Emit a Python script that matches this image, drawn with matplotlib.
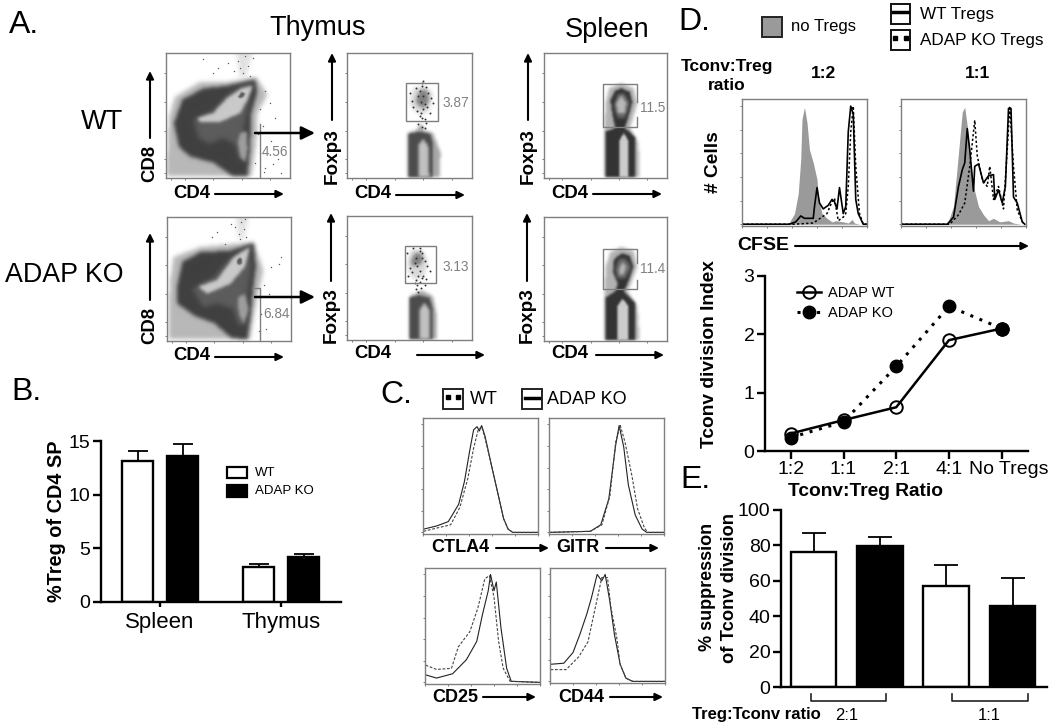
import numpy as np
import matplotlib
matplotlib.use("Agg")
import matplotlib.pyplot as plt
from matplotlib.patches import Rectangle
from matplotlib.path import Path
from matplotlib.transforms import ScaledTranslation

W, H = 1050, 727
plt.rcParams["font.family"] = ["Liberation Sans", "DejaVu Sans"]

# ---- panel A contours (channel units 0-100) ----
WT_CD8_SPECKLE = [(0, 1), (1, 25), (2, 49), (7, 65), (27, 77), (49, 77), (73, 81), (82, 67), (74, 52), (73, 28), (69, 1)]
WT_CD8_TOP = [(57, 100), (70, 100), (64, 80), (60, 80)]
WT_CD8_DARK = [(10, 25), (6, 44), (13, 63), (30, 72), (49, 74), (72, 79), (74, 69), (69, 52), (68, 25), (66, 1),
               (54, 1), (38, 12), (19, 17)]
WT_CD8_MID = [(22, 47), (38, 54), (49, 66), (61, 74), (70, 76), (67, 60), (63, 40), (64, 16), (60, 14), (56, 27),
              (45, 32), (35, 27), (26, 32)]
WT_CD8_LIGHT = [(25, 48), (38, 52), (49, 64), (61, 72), (70, 74), (66, 63), (60, 52), (44, 45), (27, 45)]
WT_CD8_STREAK = [(60, 36), (65, 37), (66, 23), (64, 12), (60, 17), (58, 28)]
WT_CD8_CORE = [(58, 65), (61, 69), (64, 68), (63, 65), (60, 64)]
WT_CD8_X = [72, 76, 80, 85, 90, 78, 88, 84, 76, 74, 80, 93, 42, 38, 50, 30, 79, 86, 62, 66, 58, 70, 55, 64, 68, 60]
WT_CD8_Y = [12, 20, 8, 30, 15, 42, 48, 60, 55, 35, 70, 4, 88, 84, 92, 95, 5, 11, 84, 90, 94, 96, 86, 98, 82, 88]

KO_CD8_SPECKLE = [(1, 1), (1, 24), (2, 48), (5, 68), (27, 76), (70, 80), (78, 57), (72, 30), (67, 1)]
KO_CD8_TOP = [(56, 100), (66, 100), (62, 82), (58, 82)]
KO_CD8_DARK = [(8, 30), (8, 45), (12, 64), (27, 72), (50, 73), (70, 79), (72, 60), (70, 45), (68, 25), (65, 1),
               (52, 2), (38, 14), (22, 20)]
KO_CD8_MID = [(20, 42), (38, 52), (50, 66), (66, 77), (68, 60), (65, 38), (65, 14), (58, 12), (53, 26), (40, 30), (29, 27)]
KO_CD8_LIGHT = [(25, 44), (40, 49), (54, 68), (67, 76), (63, 60), (51, 46), (32, 38)]
KO_CD8_STREAK = [(57, 35), (63, 38), (66, 25), (62, 14), (58, 22)]
KO_CD8_CORE = [(56, 65), (59, 68), (61, 66), (60, 62), (57, 62)]
KO_CD8_X = [78, 84, 92, 76, 80, 90, 40, 36, 52, 47, 74, 82, 58, 62, 60, 64, 55, 59, 63]
KO_CD8_Y = [45, 60, 68, 22, 10, 62, 88, 84, 94, 78, 8, 38, 86, 90, 96, 84, 92, 82, 98]

TH_WT_SPECKLE = [(48, 0), (48, 36), (55, 38), (60, 44), (62, 38), (69, 36), (75, 20), (74, 0)]
TH_WT_DARK = [(49, 0), (49, 35), (58, 37), (67, 35), (69, 26), (69, 0)]
TH_WT_LIGHT = [(57, 0), (57, 26), (61, 31), (65, 26), (66, 0)]
TH_WT_CLOUD = [(50, 60), (53, 72), (62, 74), (69, 68), (66, 54), (60, 50), (54, 54)]
TH_WT_BLOB = [(55, 62), (58, 70), (64, 71), (66, 62), (62, 56), (57, 58)]
TH_WT_GATE = (47, 46, 26, 30)
TH_WT_X = [50, 52, 55, 57, 60, 63, 65, 67, 69, 53, 56, 59, 61, 64, 66, 58, 60, 62, 63, 57, 60, 62, 58, 61, 59, 62, 61, 60]
TH_WT_Y = [68, 62, 72, 66, 74, 73, 68, 64, 60, 57, 54, 52, 55, 57, 52, 50, 48, 47, 44, 43, 41, 40, 70, 66, 61, 59, 78, 76]

TH_KO_SPECKLE = [(50, 0), (50, 35), (60, 40), (69, 35), (72, 20), (72, 0)]
TH_KO_DARK = [(50, 0), (50, 34), (58, 36), (66, 34), (69, 24), (69, 0)]
TH_KO_LIGHT = [(58, 0), (58, 24), (62, 30), (66, 24), (66, 0)]
TH_KO_CLOUD = [(48, 62), (51, 73), (60, 73), (65, 64), (62, 52), (56, 48), (50, 52)]
TH_KO_BLOB = [(51, 64), (55, 71), (61, 69), (60, 62), (56, 60), (52, 60)]
TH_KO_GATE = (46, 46, 25, 30)
TH_KO_X = [48, 50, 53, 55, 58, 60, 62, 64, 66, 49, 52, 55, 57, 60, 63, 54, 56, 58, 55, 57, 59, 56, 58, 60, 54, 58, 61, 62]
TH_KO_Y = [70, 58, 74, 66, 72, 70, 64, 60, 56, 52, 55, 48, 52, 50, 49, 46, 44, 47, 41, 39, 42, 60, 56, 66, 62, 74, 52, 44]

SP_WT_SPECKLE = [(49, 0), (49, 38), (50, 60), (53, 72), (63, 76), (73, 72), (76, 60), (72, 46), (70, 40), (77, 28), (78, 0)]
SP_WT_DARK = [(50, 37), (58, 40), (56, 49), (54, 62), (58, 70), (63, 72), (70, 69), (72, 61), (68, 46), (66, 40),
              (74, 33), (74, 0), (50, 0)]
SP_WT_MID = [(57, 58), (60, 67), (65, 68), (70, 60), (66, 48), (60, 48)]
SP_WT_LIGHT = [(59, 60), (63, 66), (67, 60), (66, 52), (60, 52)]
SP_WT_LOWER = [(61, 0), (61, 29), (65, 36), (69, 29), (69, 0)]
SP_WT_GATE_X = [76, 76, 48, 48, 76, 76]
SP_WT_GATE_Y = [61, 75, 75, 41, 41, 49]

SP_KO_SPECKLE = [(49, 0), (49, 38), (50, 60), (54, 72), (63, 76), (73, 73), (76, 60), (70, 44), (68, 40), (76, 28), (78, 0)]
SP_KO_DARK = [(50, 35), (58, 40), (60, 46), (56, 56), (57, 66), (63, 71), (70, 69), (73, 60), (68, 46), (65, 40),
              (74, 31), (74, 0), (50, 0)]
SP_KO_MID = [(58, 58), (61, 66), (66, 67), (71, 60), (66, 50), (60, 50)]
SP_KO_LIGHT = [(61, 58), (64, 64), (67, 60), (65, 54), (61, 54)]
SP_KO_LOWER = [(60, 0), (60, 28), (64, 34), (69, 28), (69, 0)]
SP_KO_GATE_X = [76, 76, 48, 48, 76, 76]
SP_KO_GATE_Y = [63, 74, 74, 42, 42, 49]

# ---- panel B ----
B_GROUPS = ["Spleen", "Thymus"]
B_WT = [13.15, 3.3]
B_KO = [13.6, 4.15]
B_WT_ERR = [0.9, 0.2]
B_KO_ERR = [1.15, 0.35]

# ---- panel C histograms ----
CTLA4_SOLID_X = [0.5, 12, 22, 31, 36, 41, 44, 47, 49, 51, 54, 60, 66, 70, 74, 78, 100]
CTLA4_SOLID_Y = [3, 6, 10, 26, 47, 78, 95, 98, 94, 99, 89, 60, 32, 13, 3, 0, 0]
CTLA4_DASH_X = [0.5, 12, 24, 32, 39, 44, 48, 51, 54, 60, 66, 70, 74, 78, 100]
CTLA4_DASH_Y = [1, 4, 7, 23, 50, 78, 95, 98, 87, 60, 32, 13, 3, 0, 0]
GITR_SOLID_X = [0, 36, 45, 52, 58, 61, 65, 69, 75, 81, 85, 100]
GITR_SOLID_Y = [0, 1, 7, 31, 81, 99, 79, 44, 16, 3, 0, 0]
GITR_DASH_X = [0, 36, 46, 53, 58, 62, 66, 72, 77, 83, 86, 100]
GITR_DASH_Y = [0, 1, 7, 34, 84, 99, 84, 53, 22, 4, 0, 0]
CD25_SOLID_X = [0.5, 10, 24, 36, 45, 50, 55, 57, 60, 62, 66, 71, 75, 100]
CD25_SOLID_Y = [7, 4, 8, 21, 38, 63, 85, 100, 85, 93, 51, 13, 1, 0]
CD25_DASH_X = [0.5, 10, 23, 29, 39, 46, 52, 56, 60, 64, 68, 74, 100]
CD25_DASH_Y = [16, 12, 13, 33, 47, 69, 96, 99, 79, 38, 13, 1, 0]
CD44_SOLID_X = [0.5, 12, 20, 26, 32, 36, 41, 45, 48, 52, 56, 61, 66, 72, 100]
CD44_SOLID_Y = [16, 17, 27, 44, 63, 78, 100, 94, 100, 75, 44, 16, 3, 0, 0]
CD44_DASH_X = [0.5, 14, 25, 33, 40, 45, 50, 53, 58, 61, 66, 72, 100]
CD44_DASH_Y = [11, 11, 23, 37, 72, 97, 97, 69, 41, 16, 3, 0, 0]

# ---- panel D histograms ----
D12_GREY_X = [37, 42, 45, 47, 48, 50, 52, 54, 57, 60, 61, 64, 68, 72, 75, 81, 85, 88, 90, 94]
D12_GREY_Y = [0, 9, 26, 55, 89, 99, 86, 63, 52, 38, 23, 9, 5, 2, 3, 2, 1, 4, 1, 0]
D12_WT_X = [0, 38, 43, 47, 50, 57, 58, 60, 62, 65, 69, 72, 74, 76, 78, 81, 83, 85, 87, 89, 91, 93, 97, 100]
D12_WT_Y = [0, 0, 2, 7, 5, 5, 15, 31, 18, 13, 16, 21, 19, 13, 31, 9, 15, 78, 100, 93, 21, 9, 0, 0]
D12_KO_X = [0, 41, 57, 68, 72, 74, 77, 81, 83, 85, 87, 89, 91, 94, 97, 100]
D12_KO_Y = [0, 0, 1, 9, 19, 22, 3, 6, 9, 32, 78, 100, 49, 9, 0, 0]
D11_GREY_X = [37, 42, 45, 49, 51, 53, 55, 58, 62, 66, 70, 74, 79, 86, 90, 96]
D11_GREY_Y = [0, 15, 49, 95, 99, 83, 58, 32, 15, 8, 3, 5, 2, 3, 1, 0]
D11_WT_X = [0, 37, 42, 46, 49, 51, 53, 55, 58, 59, 62, 66, 70, 74, 75, 78, 81, 83.5, 86, 88, 90, 93, 97, 99]
D11_WT_Y = [0, 0, 6, 32, 46, 52, 81, 63, 28, 49, 51, 35, 41, 42, 21, 29, 18, 32, 98, 98, 23, 18, 2, 0]
D11_KO_X = [0, 39, 46, 51, 55, 59, 61, 65, 69, 71, 74, 78, 82, 85, 87, 90, 93, 98]
D11_KO_Y = [0, 0, 8, 18, 49, 88, 58, 38, 32, 49, 21, 32, 13, 63, 100, 49, 12, 0]

# ---- panel D line chart ----
RATIOS = ["1:2", "1:1", "2:1", "4:1", "No Tregs"]
INDEX_WT = [0.3, 0.53, 0.75, 1.9, 2.1]
INDEX_KO = [0.23, 0.5, 1.45, 2.48, 2.1]

# ---- panel E ----
E_VALUES = [76.5, 79.5, 57, 45.5]
E_ERR = [10.5, 5, 12, 16]
E_COLOURS = ["white", "black", "white", "black"]

FLOW_TICKS = [4, 15, 38, 61, 84]
HIST_TICKS = [0, 20, 40, 60, 80, 100]
BOX_GREY = "#7f7f7f"

fig = plt.figure(figsize=(W / 100, H / 100), dpi=100)


def px_ax(x0, y0, x1, y1):
    return fig.add_axes([x0 / W, 1 - y1 / H, (x1 - x0) / W, (y1 - y0) / H])


def box_style(ax):
    for s in ax.spines.values():
        s.set_color(BOX_GREY)
        s.set_linewidth(1.0)
    ax.set_xticklabels([])
    ax.set_yticklabels([])
    ax.tick_params(length=1.5, width=0.6, color="#666666", pad=1)


def blur(img, sigma):
    r = int(3 * sigma) + 1
    k = np.exp(-0.5 * (np.arange(-r, r + 1) / sigma) ** 2)
    k = k / k.sum()
    pad = np.pad(img, r, mode="edge")
    pad = np.apply_along_axis(lambda m: np.convolve(m, k, mode="same"), 0, pad)
    pad = np.apply_along_axis(lambda m: np.convolve(m, k, mode="same"), 1, pad)
    return pad[r:-r, r:-r]


def density_image(layers):
    # soft grey picture of the cell cloud, painted from the contours
    xs, ys = np.meshgrid(np.linspace(0, 100, 124), np.linspace(0, 100, 125))
    pts = np.column_stack([xs.ravel(), ys.ravel()])
    img = np.ones(xs.shape)
    for verts, grey, sigma in layers:
        mask = Path(verts).contains_points(pts).reshape(xs.shape).astype(float)
        mask = blur(mask, sigma)
        img = img * (1 - mask) + grey * mask
    return img


def flow_box(box, layers):
    ax = px_ax(*box)
    ax.imshow(density_image(layers), extent=(0, 100, 0, 100), origin="lower", cmap="gray", vmin=0, vmax=1,
              aspect="auto", interpolation="bilinear", zorder=0)
    ax.set_xlim(0, 100)
    ax.set_ylim(0, 100)
    ax.set_xticks(FLOW_TICKS)
    ax.set_yticks(FLOW_TICKS)
    box_style(ax)
    return ax


def cd8_panel(box, spk, top, dark, mid, light, streak, core, sx, sy):
    ax = flow_box(box, [(spk, 0.72, 2.2), (top, 0.88, 2.5), (dark, 0.25, 2.0), (mid, 0.36, 2.5),
                        (streak, 0.62, 1.6), (light, 0.79, 1.6), (core, 0.36, 0.8)])
    ax.scatter(sx, sy, s=1.0, color="#555555", lw=0)
    return ax


def thymus_panel(box, spk, dark, light, cloud, blob, gate, sx, sy):
    ax = flow_box(box, [(spk, 0.65, 1.6), (dark, 0.3, 1.2), (light, 0.76, 1.5), (cloud, 0.85, 2.0), (blob, 0.5, 1.8)])
    ax.scatter(sx, sy, s=2, color="#333333", lw=0)
    ax.add_patch(Rectangle(gate[:2], gate[2], gate[3], fill=False, edgecolor=BOX_GREY, lw=1))
    return ax


def spleen_panel(box, spk, dark, mid, light, lower, gx, gy):
    ax = flow_box(box, [(spk, 0.7, 1.6), (dark, 0.2, 1.2), (mid, 0.42, 1.6), (light, 0.72, 1.4), (lower, 0.8, 1.0)])
    ax.plot(gx, gy, color=BOX_GREY, lw=1)
    return ax


def hist_box(box, top=106):
    ax = px_ax(*box)
    ax.set_xlim(0, 100)
    ax.set_ylim(-1.5, top)
    ax.set_xticks(HIST_TICKS)
    ax.set_yticks(HIST_TICKS)
    box_style(ax)
    return ax


def small_hist(box, sx, sy, dx, dy):
    ax = hist_box(box)
    ax.plot(sx, sy, color="#222222", lw=0.8)
    ax.plot(dx, dy, color="#444444", lw=0.8, ls=(0, (2.5, 1.5)))


def prolif_hist(box, gx, gy, wx, wy, kx, ky):
    ax = hist_box(box)
    ax.fill_between(gx, gy, 0, color="#9a9a9a", lw=0)
    ax.plot(wx, wy, color="black", lw=1.2)
    ax.plot(kx, ky, color="black", lw=1.1, ls=(0, (1.5, 1.5)))


def open_axes(ax):
    ax.spines["top"].set_visible(False)
    ax.spines["right"].set_visible(False)
    ax.spines["left"].set_linewidth(1.7)
    ax.spines["bottom"].set_linewidth(1.7)
    ax.tick_params(width=1.7, length=5.5, labelsize=14, pad=2)


# panel A
cd8_panel((166, 53, 290, 178), WT_CD8_SPECKLE, WT_CD8_TOP, WT_CD8_DARK, WT_CD8_MID, WT_CD8_LIGHT,
          WT_CD8_STREAK, WT_CD8_CORE, WT_CD8_X, WT_CD8_Y).plot([76, 76], [1, 43], color=BOX_GREY, lw=1)
cd8_panel((167, 217, 291, 341), KO_CD8_SPECKLE, KO_CD8_TOP, KO_CD8_DARK, KO_CD8_MID, KO_CD8_LIGHT,
          KO_CD8_STREAK, KO_CD8_CORE, KO_CD8_X, KO_CD8_Y).plot([70, 75, 75], [43, 43, 1], color=BOX_GREY, lw=1)
thymus_panel((347, 53, 472, 178), TH_WT_SPECKLE, TH_WT_DARK, TH_WT_LIGHT, TH_WT_CLOUD, TH_WT_BLOB, TH_WT_GATE, TH_WT_X, TH_WT_Y)
thymus_panel((347, 216, 472, 340), TH_KO_SPECKLE, TH_KO_DARK, TH_KO_LIGHT, TH_KO_CLOUD, TH_KO_BLOB, TH_KO_GATE, TH_KO_X, TH_KO_Y)
spleen_panel((544, 53, 667, 178), SP_WT_SPECKLE, SP_WT_DARK, SP_WT_MID, SP_WT_LIGHT, SP_WT_LOWER, SP_WT_GATE_X, SP_WT_GATE_Y)
spleen_panel((544, 217, 667, 341), SP_KO_SPECKLE, SP_KO_DARK, SP_KO_MID, SP_KO_LIGHT, SP_KO_LOWER, SP_KO_GATE_X, SP_KO_GATE_Y)

# panel B
ax = px_ax(101, 441, 341, 602)
for i in range(len(B_GROUPS)):
    ax.bar(i - 0.186, B_WT[i], 0.256, color="white", edgecolor="black", lw=1.7,
           yerr=[[0], [B_WT_ERR[i]]], ecolor="black", error_kw=dict(capsize=7, lw=1.3, capthick=1.3))
    ax.bar(i + 0.186, B_KO[i], 0.256, color="black", edgecolor="black", lw=1.7,
           yerr=[[0], [B_KO_ERR[i]]], ecolor="black", error_kw=dict(capsize=7, lw=1.3, capthick=1.3))
ax.set_xlim(-0.488, 1.496)
ax.set_ylim(0, 15)
ax.set_yticks([0, 5, 10, 15])
ax.set_xticks(range(len(B_GROUPS)))
ax.set_xticklabels(B_GROUPS)
open_axes(ax)
ax.tick_params(axis="x", labelsize=16, length=3.5, pad=4)

# panel C
small_hist((423, 418, 538, 534), CTLA4_SOLID_X, CTLA4_SOLID_Y, CTLA4_DASH_X, CTLA4_DASH_Y)
small_hist((549, 418, 664, 534), GITR_SOLID_X, GITR_SOLID_Y, GITR_DASH_X, GITR_DASH_Y)
small_hist((425, 568, 540, 684), CD25_SOLID_X, CD25_SOLID_Y, CD25_DASH_X, CD25_DASH_Y)
small_hist((550, 568, 665, 683), CD44_SOLID_X, CD44_SOLID_Y, CD44_DASH_X, CD44_DASH_Y)

# panel D
prolif_hist((742, 99, 867, 226), D12_GREY_X, D12_GREY_Y, D12_WT_X, D12_WT_Y, D12_KO_X, D12_KO_Y)
prolif_hist((901, 99, 1026, 226), D11_GREY_X, D11_GREY_Y, D11_WT_X, D11_WT_Y, D11_KO_X, D11_KO_Y)

ax = px_ax(765, 276, 1028, 451)
xpos = list(range(len(RATIOS)))
ax.plot(xpos, INDEX_KO, color="black", lw=2.2, ls=(0, (1, 2.2)), marker="o", ms=9, mfc="black", mec="black", label="ADAP KO", zorder=2)
ax.plot(xpos, INDEX_WT, color="black", lw=1.8, marker="o", ms=9, mfc="none", mec="black", mew=1.4, label="ADAP WT", zorder=3)
ax.scatter(xpos[-1], INDEX_KO[-1], s=80, color="black", zorder=4)
ax.set_xlim(-0.49, 4.5)
ax.set_ylim(0, 3)
ax.set_xticks(xpos)
ax.set_xticklabels(RATIOS)
ax.set_yticks([0, 1, 2, 3])
open_axes(ax)
last = ax.get_xticklabels()[-1]
last.set_transform(last.get_transform() + ScaledTranslation(0.07, 0, fig.dpi_scale_trans))
h, l = ax.get_legend_handles_labels()
ax.legend(h[::-1], l[::-1], frameon=False, fontsize=10.5, loc="upper left", bbox_to_anchor=(0.12, 0.945),
          handlelength=1.7, labelspacing=0.45, handletextpad=0.45, borderpad=0, borderaxespad=0)

# panel E
ax = px_ax(781, 510, 1047, 687)
xpos = list(range(len(E_VALUES)))
for i in xpos:
    ax.bar(i, E_VALUES[i], 0.686, color=E_COLOURS[i], edgecolor="black", lw=1.7,
           yerr=[[0], [E_ERR[i]]], ecolor="black", error_kw=dict(capsize=8.5, lw=1.3, capthick=1.3))
ax.set_xlim(-0.49, 3.52)
ax.set_ylim(0, 100)
ax.set_yticks([0, 20, 40, 60, 80, 100])
ax.set_xticks([])
open_axes(ax)

# overlay in picture pixels for the labels, arrows and keys
ov = fig.add_axes([0, 0, 1, 1], zorder=10)
ov.set_xlim(0, W)
ov.set_ylim(H, 0)
ov.axis("off")
ov.patch.set_alpha(0)


def label(x, y, s, size=13, bold=False, rot=0, ha="center", colour="black"):
    ov.text(x, y, s, fontsize=size, fontweight="bold" if bold else "normal", rotation=rot,
            ha=ha, va="center", color=colour)


def arrow(x0, y0, x1, y1, lw=1.5, head=10):
    ov.annotate("", xy=(x1, y1), xytext=(x0, y0),
                arrowprops=dict(arrowstyle="-|>,head_width=0.22,head_length=0.45", color="black", lw=lw,
                                shrinkA=0, shrinkB=0, mutation_scale=head))


for x, y, s in [(9, 25, "A."), (11, 392, "B."), (380, 395, "C."), (678, 22, "D."), (680, 480, "E.")]:
    label(x, y, s, 23, ha="left")
label(318, 28, "Thymus", 19.5)
label(607, 30, "Spleen", 19.5)
label(102, 122, "WT", 19.5)
label(64, 275, "ADAP KO", 19.3)

# A labels and arrows
for cd8y, ay0, ay1, cdy in [(163, 138, 71, 193), (325, 300, 233, 356)]:
    label(150, cd8y, "CD8", 13.3, True, 90)
    arrow(150, ay0, 150, ay1)
    label(192, cdy, "CD4", 13.3, True)
    arrow(215, cdy + 1, 284, cdy + 1)
label(332, 156, "Foxp3", 13.6, True, 90)
arrow(332, 120, 332, 53)
label(528, 156, "Foxp3", 13.6, True, 90)
arrow(528, 120, 528, 53)
label(331, 315, "Foxp3", 13.6, True, 90)
arrow(331, 281, 331, 213)
label(527, 315, "Foxp3", 13.6, True, 90)
arrow(527, 281, 527, 213)
label(373, 193, "CD4", 13.3, True)
arrow(396, 195, 465, 195)
label(570, 193, "CD4", 13.3, True)
arrow(593, 194, 662, 194)
label(373, 354, "CD4", 13.3, True)
arrow(417, 355, 485, 355)
label(570, 354, "CD4", 13.3, True)
arrow(596, 355, 664, 355)
arrow(255, 133, 315, 133, 1.8, 18)
arrow(255, 297, 315, 297, 1.8, 18)
for x, y, s in [(275, 152, "4.56"), (276, 314, "6.84"), (456, 103, "3.87"), (456, 267, "3.13"), (653, 108, "11.5"), (653, 269, "11.4")]:
    label(x, y, s, 9.8, colour="#808080")

# B labels and key
label(57, 521, "%Treg of CD4 SP", 14.3, True, 90)
ov.add_patch(Rectangle((227, 467), 20, 11, facecolor="white", edgecolor="black", lw=1.6))
ov.add_patch(Rectangle((227, 485), 20, 12, facecolor="black", edgecolor="black", lw=1.6))
label(255, 473, "WT", 9.5, ha="left")
label(255, 491, "ADAP KO", 9.5, ha="left")

# C labels and key
for bx in [443, 522]:
    ov.add_patch(Rectangle((bx, 389), 20, 20, facecolor="white", edgecolor="#222222", lw=1.4))
ov.plot([448, 458], [397, 397], color="black", ls="none", marker="s", ms=2.6)
ov.plot([525, 539], [398, 398], color="black", lw=2.5)
label(470, 400, "WT", 13, ha="left")
label(547, 400, "ADAP KO", 13, ha="left")
for x, y, s, a0, a1 in [(460, 548, "CTLA4", 496, 549), (578, 548, "GITR", 606, 659), (455, 697, "CD25", 483, 536), (581, 697, "CD44", 610, 663)]:
    label(x, y, s, 13, True)
    arrow(a0, y, a1, y)

# D labels and key
ov.add_patch(Rectangle((762, 17), 20, 20, facecolor="#9a9a9a", edgecolor="#222222", lw=1.4))
label(791, 27, "no Tregs", 12, ha="left")
ov.add_patch(Rectangle((891, 4), 19, 20, facecolor="white", edgecolor="#111111", lw=1.4))
ov.plot([893, 908], [12, 12], color="black", lw=2.5)
ov.add_patch(Rectangle((891, 30), 19, 20, facecolor="white", edgecolor="#111111", lw=1.4))
ov.plot([895, 906], [38, 38], color="black", ls="none", marker="s", ms=2.6)
label(920, 14, "WT Tregs", 12.3, ha="left")
label(920, 40, "ADAP KO Tregs", 12.3, ha="left")
label(727, 67, "Tconv:Treg", 12.5, True)
label(727, 86, "ratio", 12.5, True)
label(823, 74, "1:2", 12.5, True)
label(977, 74, "1:1", 12.5, True)
label(713, 162, "# Cells", 13.8, True, 90)
label(763, 245, "CFSE", 14, True)
arrow(795, 246, 1029, 246)
label(710, 354, "Tconv division Index", 13.8, True, 90)
label(865, 491, "Tconv:Treg Ratio", 13.8, True)

# E labels and brackets
label(707, 587, "% suppression", 13, True, 90)
label(729, 588, "of Tconv division", 13.2, True, 90)
for b0, b1 in [(811, 886), (952, 1028)]:
    ov.plot([b0, b0, b1, b1], [694, 701, 701, 694], color="#222222", lw=1.2)
label(692, 715, "Treg:Tconv ratio", 12, True, ha="left")
label(847, 715, "2:1", 12)
label(989, 715, "1:1", 12)

fig.savefig("out.png", dpi=100)
